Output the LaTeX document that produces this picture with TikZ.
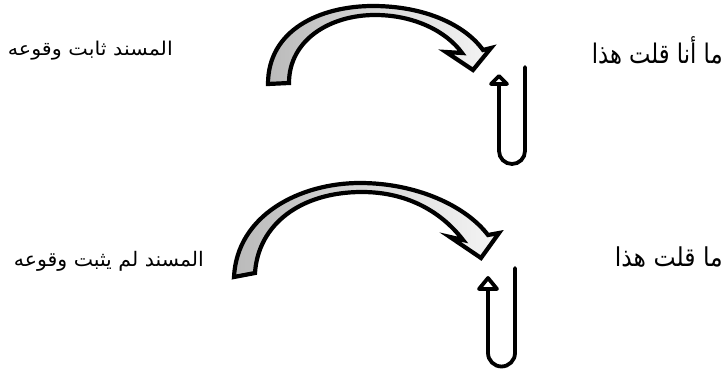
\documentclass[tikz,border=0pt]{standalone}
\usepackage{fontspec}
\usepackage{graphicx}
\newfontfamily\arabicfont[Script=Arabic]{DejaVu Sans}
\TeXXeTstate=1
\begin{document}
\begin{tikzpicture}[x=1pt,y=-1pt,
  curvedarrow/.style={draw=black, line width=4.2pt, line join=miter, left color=black!27, right color=black!4},
  uline/.style={draw=black, line width=3.8pt, line cap=round},
  uhead/.style={draw=black, line width=3.8pt, fill=white, line join=round},
  arabictext/.style={anchor=base east, inner sep=0pt}]
\useasboundingbox (0,0) rectangle (727,371);
% top curved arrow
\coordinate (a1o) at (268,84);
\coordinate (a1i) at (289,83);
\path[curvedarrow] (a1o) .. controls (268,30) and (320,6) .. (373,6)
  .. controls (425,6) and (465,25) .. (483,50)
  -- (491,48) -- (473,70) -- (446,52) -- (462,53)
  .. controls (447,32) and (415,15) .. (375,15)
  .. controls (330,15) and (289,40) .. (a1i) -- cycle;
% bottom curved arrow
\coordinate (a2o) at (234,277);
\coordinate (a2i) at (255,273);
\path[curvedarrow] (a2o) .. controls (237,215) and (300,183) .. (360,183)
  .. controls (415,183) and (465,205) .. (488,235)
  -- (499,233) -- (481,258) -- (450,237) -- (463,240)
  .. controls (440,210) and (405,192) .. (362,192)
  .. controls (300,192) and (258,225) .. (a2i) -- cycle;
% top U arrow
\coordinate (u1s) at (525,67);
\coordinate (u1t) at (499,76);
\draw[uline] (u1s) -- (525,151) arc (0:180:13) -- (499,84);
\draw[uhead] (u1t) -- (507,84) -- (491,84) -- cycle;
% bottom U arrow
\coordinate (u2s) at (515,268);
\coordinate (u2t) at (488,278);
\draw[uline] (u2s) -- (515,353) arc (0:180:13.5) -- (488,289);
\draw[uhead] (u2t) -- (497,289) -- (479,289) -- cycle;
% texts
\node[arabictext] (t1) at (173,56) {\resizebox{165pt}{\height}{\arabicfont\fontsize{19}{22}\selectfont\beginR المسند ثابت وقوعه\endR}};
\node[arabictext] (t2) at (723,64) {\resizebox{131pt}{\height}{\arabicfont\fontsize{27}{30}\selectfont\beginR ما أنا قلت هذا\endR}};
\node[arabictext] (t3) at (204,266) {\resizebox{190pt}{\height}{\arabicfont\fontsize{20}{23}\selectfont\beginR المسند لم يثبت وقوعه\endR}};
\node[arabictext] (t4) at (723,266) {\resizebox{108pt}{\height}{\arabicfont\fontsize{26}{29}\selectfont\beginR ما قلت هذا\endR}};
\end{tikzpicture}
\end{document}
